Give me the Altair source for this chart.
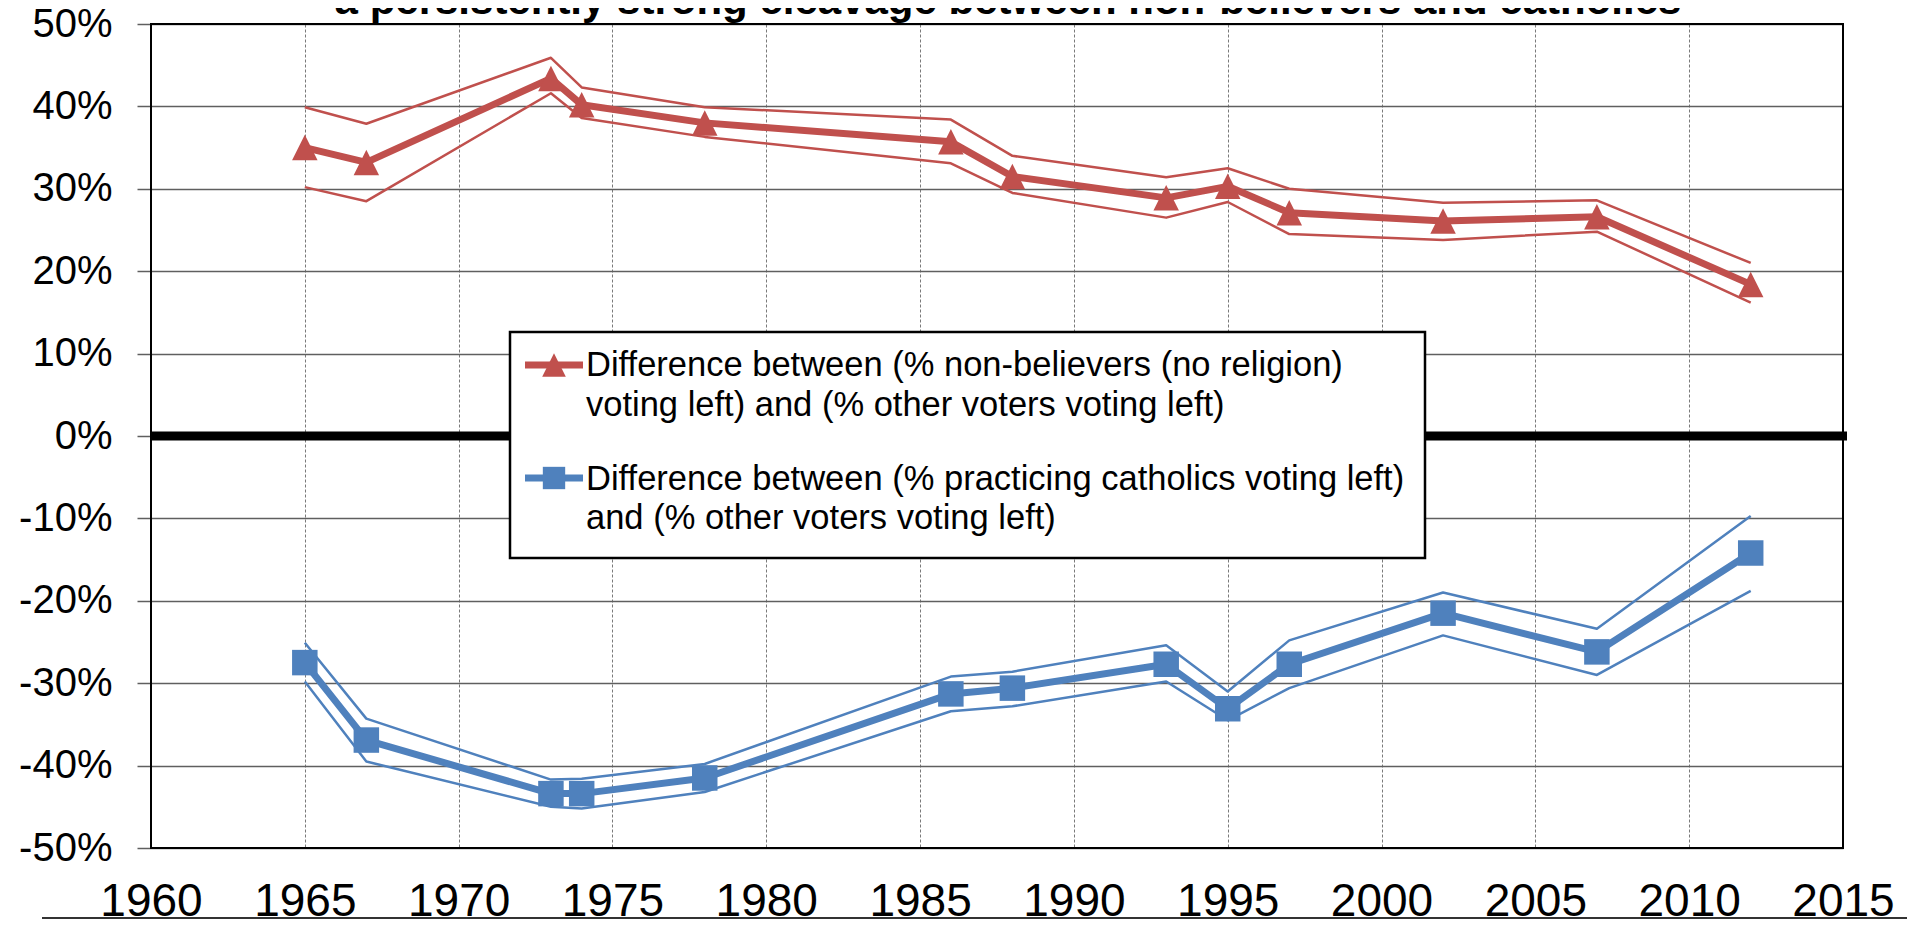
import altair as alt
import pandas as pd

# ---------------- data ----------------
years = [1965, 1967, 1973, 1974, 1978, 1986, 1988, 1993, 1995, 1997, 2002, 2007, 2012]

nonbel_mid = [0.350, 0.332, 0.434, 0.402, 0.380, 0.357, 0.315, 0.289, 0.303, 0.271, 0.261, 0.266, 0.184]
nonbel_hi = [0.399, 0.379, 0.459, 0.423, 0.399, 0.384, 0.340, 0.314, 0.325, 0.300, 0.283, 0.286, 0.210]
nonbel_lo = [0.302, 0.285, 0.416, 0.386, 0.363, 0.331, 0.295, 0.265, 0.284, 0.245, 0.238, 0.248, 0.162]

cath_mid = [-0.275, -0.369, -0.434, -0.434, -0.415, -0.313, -0.306, -0.277, -0.331, -0.277, -0.215, -0.262, -0.142]
cath_hi = [-0.251, -0.343, -0.417, -0.416, -0.398, -0.292, -0.286, -0.254, -0.310, -0.248, -0.190, -0.234, -0.097]
cath_lo = [-0.298, -0.395, -0.450, -0.452, -0.432, -0.334, -0.328, -0.298, -0.345, -0.306, -0.242, -0.290, -0.188]

series_names = ["nonbelievers", "catholics"]
series_colors = ["#C0504D", "#4F81BD"]

x_ticks = [1960, 1965, 1970, 1975, 1980, 1985, 1990, 1995, 2000, 2005, 2010, 2015]
y_ticks = [-0.5, -0.4, -0.3, -0.2, -0.1, 0.0, 0.1, 0.2, 0.3, 0.4, 0.5]

title_text = "a persistently strong cleavage between non-believers and catholics"
legend_text_1 = "Difference between (% non-believers (no religion)\nvoting left) and (% other voters voting left)"
legend_text_2 = "Difference between (% practicing catholics voting left)\nand (% other voters voting left)"

# ---------------- table ----------------
rows = []
for name, mids, his, los in [
    ("nonbelievers", nonbel_mid, nonbel_hi, nonbel_lo),
    ("catholics", cath_mid, cath_hi, cath_lo),
]:
    for yr, m, h, l in zip(years, mids, his, los):
        rows.append({"year": yr, "mid": m, "hi": h, "lo": l, "series": name})
df = pd.DataFrame(rows)
one = pd.DataFrame({"k": [0]})

W, H = 1692, 824
FONT = "Liberation Sans"
TRI = "M0,-1L1,1L-1,1Z"

xscale = alt.Scale(domain=[1960, 2015], nice=False, zero=False)
yscale = alt.Scale(domain=[-0.5, 0.5], nice=False, zero=False)
color = alt.Color("series:N", scale=alt.Scale(domain=series_names, range=series_colors), legend=None)

xaxis = alt.Axis(values=x_ticks, format="d", labelFontSize=46, labelFont=FONT, labelColor="black",
                 labelBaseline="alphabetic", labelPadding=67, ticks=False, tickSize=0, domain=False,
                 grid=True, gridDash=[3, 2], gridColor="#7a7a7a", gridWidth=1,
                 labelFlush=False, labelOverlap=False, title=None)
yaxis = alt.Axis(values=y_ticks, labelExpr="round(datum.value*100) + '%'", labelFontSize=40,
                 labelFont=FONT, labelColor="black", labelPadding=25, tickSize=14,
                 tickColor="#5f5f5f", tickWidth=1.5, domain=False, grid=True,
                 gridColor="#5f5f5f", gridWidth=1.5, title=None, labelOverlap=False)

X = alt.X("year:Q", scale=xscale, axis=xaxis)

base = alt.Chart(df)

band_hi = base.mark_line(strokeWidth=2.5, strokeJoin="round").encode(
    x=X, y=alt.Y("hi:Q", scale=yscale, axis=yaxis), color=color, detail="series:N")
band_lo = base.mark_line(strokeWidth=2.5, strokeJoin="round").encode(
    x=X, y=alt.Y("lo:Q", scale=yscale, axis=yaxis), color=color, detail="series:N")
main = base.mark_line(strokeWidth=7, strokeJoin="round").encode(
    x=X, y=alt.Y("mid:Q", scale=yscale, axis=yaxis), color=color, detail="series:N")
pts = base.mark_point(filled=True, opacity=1, size=650).encode(
    x=X, y=alt.Y("mid:Q", scale=yscale, axis=yaxis), color=color,
    shape=alt.Shape("series:N", scale=alt.Scale(domain=series_names, range=[TRI, "square"]), legend=None))

zero = alt.Chart(one).mark_rule(color="black", strokeWidth=9).encode(
    y=alt.datum(0), x=alt.value(0), x2=alt.value(W + 4))

border = alt.Chart(one).mark_rect(fill=None, stroke="black", strokeWidth=2).encode(
    x=alt.value(0), x2=alt.value(W), y=alt.value(0), y2=alt.value(H))

# legend box
lg_box = alt.Chart(one).mark_rect(fill="white", stroke="black", strokeWidth=2.5).encode(
    x=alt.value(359), x2=alt.value(1274), y=alt.value(308), y2=alt.value(534))
lg_line1 = alt.Chart(one).mark_rule(color=series_colors[0], strokeWidth=7).encode(
    x=alt.value(374), x2=alt.value(432), y=alt.value(341))
lg_line2 = alt.Chart(one).mark_rule(color=series_colors[1], strokeWidth=7).encode(
    x=alt.value(374), x2=alt.value(432), y=alt.value(454))
lg_pt1 = alt.Chart(one).mark_point(filled=True, opacity=1, size=560, shape=TRI,
                                   color=series_colors[0]).encode(x=alt.value(403), y=alt.value(341))
lg_pt2 = alt.Chart(one).mark_point(filled=True, opacity=1, size=500, shape="square",
                                   color=series_colors[1]).encode(x=alt.value(403), y=alt.value(454))
lg_txt1 = alt.Chart(one).mark_text(text=legend_text_1, lineBreak="\n", lineHeight=40, fontSize=34.5,
                                   font=FONT, align="left", baseline="alphabetic", color="black").encode(
    x=alt.value(435), y=alt.value(352))
lg_txt2 = alt.Chart(one).mark_text(text=legend_text_2, lineBreak="\n", lineHeight=39, fontSize=34.5,
                                   font=FONT, align="left", baseline="alphabetic", color="black").encode(
    x=alt.value(435), y=alt.value(466))

title = alt.Chart(one).mark_text(text=title_text, fontSize=42, fontWeight="bold", font=FONT,
                                 align="center", baseline="alphabetic", color="black").encode(
    x=alt.value(857), y=alt.value(-10))

bottom_rule = alt.Chart(one).mark_rule(color="#333333", strokeWidth=2).encode(
    x=alt.value(-109), x2=alt.value(1756), y=alt.value(894))

chart = alt.layer(
    zero, band_hi, band_lo, main, pts, border,
    lg_box, lg_line1, lg_line2, lg_pt1, lg_pt2, lg_txt1, lg_txt2,
    title, bottom_rule,
).properties(
    width=W, height=H,
    autosize=alt.AutoSizeParams(type="none"),
    padding={"left": 143, "top": 16, "right": 64, "bottom": 72},
).configure(font=FONT).configure_view(stroke=None)

chart.save("out.html", embed_options={"renderer": "svg", "actions": False})
